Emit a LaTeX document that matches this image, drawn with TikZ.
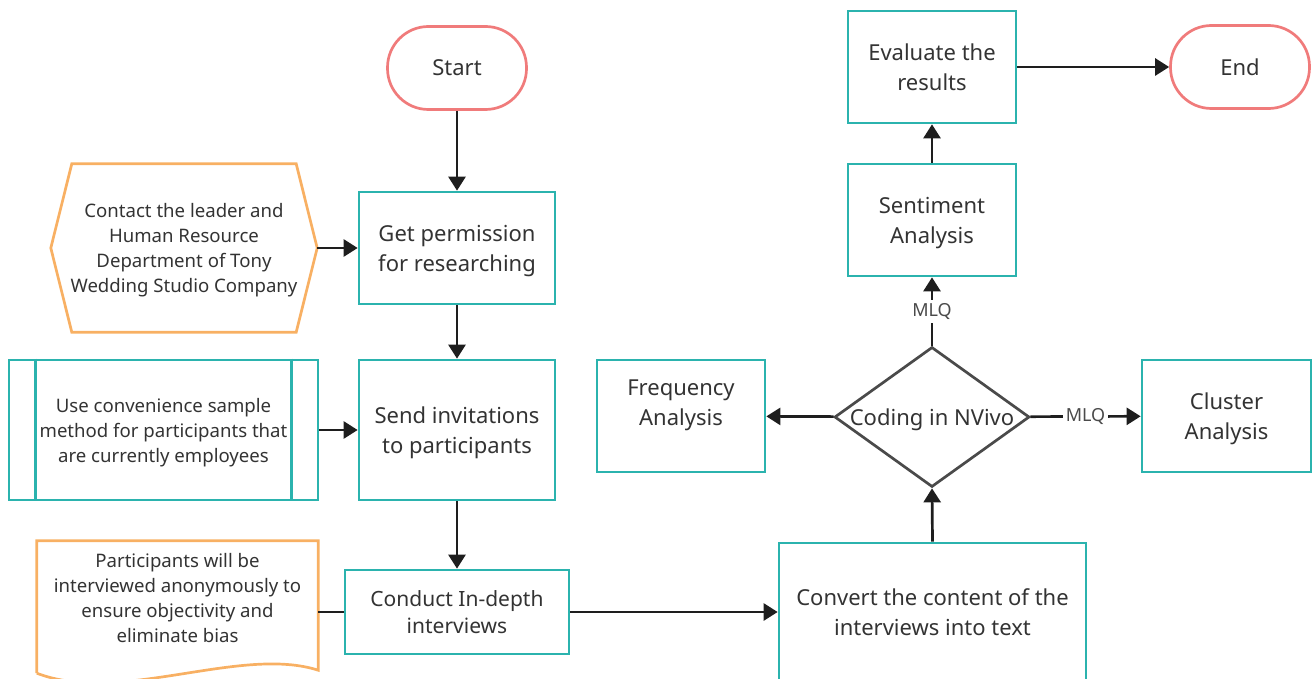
\documentclass[tikz,border=0pt]{standalone}
\usepackage{fontspec}
\setmainfont{Noto Sans}
\usetikzlibrary{shapes.geometric,arrows.meta,calc}
\definecolor{tealc}{HTML}{2BB3AE}
\definecolor{orangec}{HTML}{F8B063}
\definecolor{redc}{HTML}{F07B7B}
\definecolor{darkc}{HTML}{4A4A4A}
\definecolor{linec}{HTML}{1E1E1E}
\definecolor{txtc}{HTML}{333333}
\tikzset{
  box/.style={draw=tealc, line width=2.7pt, align=center, text=txtc, text depth=0pt, font=\fontsize{22}{30}\selectfont},
  term/.style={box, draw=redc, rounded corners=41pt, minimum width=139pt, minimum height=83pt},
  note/.style={align=center, text=txtc, text depth=0pt, font=\fontsize{18.6}{25}\selectfont},
  link/.style={line width=2.7pt, draw=linec, -{Triangle[length=14pt,width=17pt]}},
  plain/.style={line width=2.7pt, draw=linec},
  tag/.style={fill=white, text=darkc, font=\fontsize{18}{20}\selectfont, inner sep=3pt},
}
\begin{document}
\begin{tikzpicture}[x=1pt,y=-1pt]
				\useasboundingbox (0,0) rectangle (1314,679);
				
				% terminals
				\node[term] (start) at (457,68) {Start};
				\node[term] (end) at (1240,67) {End};
				
				% main column
				\node[box, minimum width=196pt, minimum height=112pt] (perm) at (457,248) {Get permission\\for researching};
				\node[box, minimum width=196pt, minimum height=140pt] (invite) at (457,430) {Send invitations\\to participants};
				\node[box, minimum width=224pt, minimum height=84pt, font=\fontsize{21}{27}\selectfont] (conduct) at (457,612) {Conduct In-depth\\interviews};
				
				% side notes on the left
				\node[note, minimum width=266pt, minimum height=168pt] (contact) at (184,248) {Contact the leader and\\Human Resource\\Department of Tony\\Wedding Studio Company};
				\draw[orangec, line width=2.7pt] (contact.west) -- ($(contact.north west)+(21,0)$) -- ($(contact.north east)+(-21,0)$)
					-- (contact.east) -- ($(contact.south east)+(-21,0)$) -- ($(contact.south west)+(21,0)$) -- cycle;
				
				\node[note, draw=tealc, line width=2.7pt, minimum width=309pt, minimum height=140pt] (sample) at (163.5,430) {Use convenience sample\\method for participants that\\are currently employees};
				\draw[tealc, line width=2.7pt] ($(sample.north west)+(28,0)$) -- ($(sample.south west)+(28,0)$);
				\draw[tealc, line width=2.7pt] ($(sample.north east)+(-28,0)$) -- ($(sample.south east)+(-28,0)$);
				
				% document shape with a wavy bottom
				\node[note, minimum width=281pt, minimum height=114pt] (anonym) at (177.5,598) {Participants will be\\interviewed anonymously to\\ensure objectivity and\\eliminate bias};
				\draw[orangec, line width=2.7pt] ($(anonym.south west)+(0,18)$) -- (anonym.north west) -- (anonym.north east) -- ($(anonym.south east)+(0,15)$)
					.. controls ($(anonym.south east)+(-78,-10)$) and ($(anonym.south west)+(83,50)$) .. ($(anonym.south west)+(0,18)$);
				
				% analysis part
				\node[box, minimum width=307pt, minimum height=138pt] (convert) at (932.5,612) {Convert the content of the\\interviews into text};
				\node[box, diamond, draw=darkc, aspect=1.39, inner sep=0pt, minimum width=195pt, minimum height=140pt] (coding) at (932,417) {Coding in NVivo};
				\node[box, minimum width=168pt, minimum height=112pt, text depth=26pt] (freq) at (681,416) {Frequency\\Analysis};
				\node[box, minimum width=169pt, minimum height=112pt] (cluster) at (1226.5,416) {Cluster\\Analysis};
				\node[box, minimum width=168pt, minimum height=112pt] (senti) at (932,220) {Sentiment\\Analysis};
				\node[box, minimum width=168pt, minimum height=112pt] (eval) at (932,67) {Evaluate the\\results};
				
				% connectors
				\draw[link] (start) -- (perm);
				\draw[link] (contact) -- (perm);
				\draw[link] (perm) -- (invite);
				\draw[link] (sample) -- (invite);
				\draw[link] (invite) -- (conduct);
				\draw[plain] (anonym.east |- conduct.west) -- (conduct.west);
				\draw[link] (conduct) -- (convert);
				\draw[link] (convert.north) -- (coding.south);
				\draw[link] (coding) -- (freq);
				\draw[link] (coding) -- node[tag] {MLQ} (cluster);
				\draw[link] (coding) -- node[tag] {MLQ} (senti);
				\draw[link] (senti) -- (eval);
				\draw[link] (eval) -- (end);
				
\end{tikzpicture}
\end{document}
